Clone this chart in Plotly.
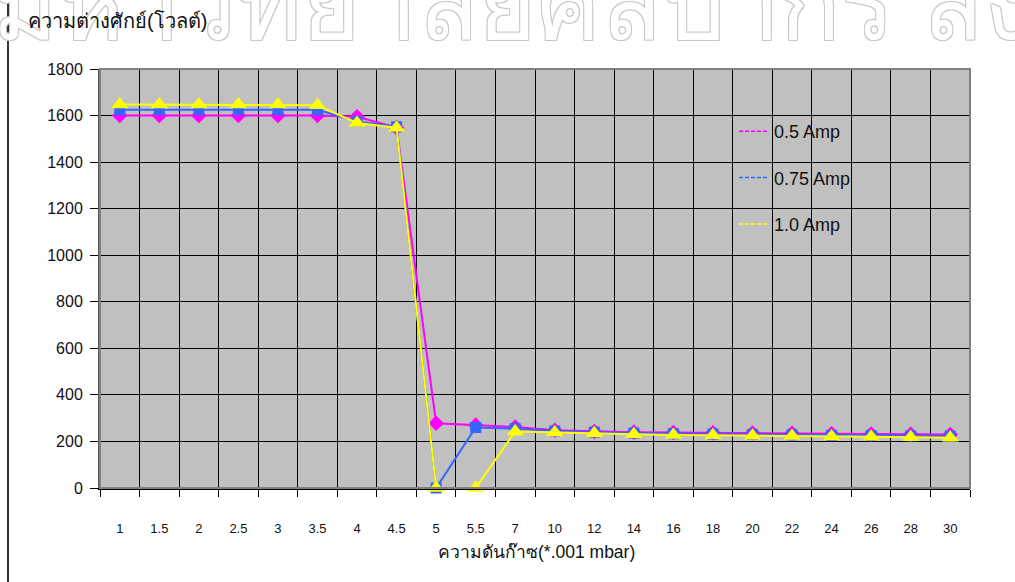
import plotly.graph_objects as go

categories = ["1", "1.5", "2", "2.5", "3", "3.5", "4", "4.5", "5", "5.5", "7",
              "10", "12", "14", "16", "18", "20", "22", "24", "26", "28", "30"]

amp_050 = [1600, 1600, 1600, 1600, 1600, 1600, 1595, 1548, 278, 270, 262,
           248, 243, 240, 238, 237, 236, 235, 233, 232, 231, 230]
amp_075 = [1625, 1625, 1625, 1625, 1625, 1625, 1575, 1552, 0, 260, 255,
           245, 240, 236, 233, 232, 230, 228, 226, 225, 224, 223]
amp_100 = [1647, 1647, 1647, 1647, 1647, 1644, 1568, 1548, 0, 0, 243,
           238, 235, 231, 228, 227, 225, 223, 221, 220, 218, 216]

series_names = ["0.5 Amp", "0.75 Amp", "1.0 Amp"]
series_values = [amp_050, amp_075, amp_100]
series_colors = ["#FF00FF", "#3366FF", "#FFFF00"]
series_symbols = ["diamond", "square", "triangle-up"]
series_sizes = [12, 11, 15]

y_title = "ความต่างศักย์(โวลต์)"
x_title = "ความดันก๊าซ(*.001 mbar)"
watermark = "มหาวิทยาลัยศิลปากร สงวนลิขสิทธิ์"

fig = go.Figure()

for name, vals, col, sym, sz in zip(series_names, series_values, series_colors,
                                     series_symbols, series_sizes):
    fig.add_trace(go.Scatter(
        x=categories, y=vals, mode="lines+markers", name=name,
        line=dict(color=col, width=2),
        marker=dict(symbol=sym, size=sz, color=col, line=dict(width=0)),
        showlegend=False, cliponaxis=False,
    ))

for i, (name, col) in enumerate(zip(series_names, series_colors)):
    fig.add_trace(go.Scatter(
        x=[None], y=[None], mode="lines", name=name,
        line=dict(color=col, width=1.5, dash="4px,2px"),
        legendgroup=f"g{i}", showlegend=True,
    ))

W, H = 1015, 582
L, R, T, B = 100, 45, 69, 94
pw, ph = W - L - R, H - T - B

def px_to_paper_x(px):
    return (px - L) / pw

def px_to_paper_y(py):
    return (H - B - py) / ph

fig.update_layout(
    width=W, height=H,
    margin=dict(l=L, r=R, t=T, b=B, pad=0),
    paper_bgcolor="white",
    plot_bgcolor="#C0C0C0",
    font=dict(family="Liberation Sans, Arial, sans-serif", color="#111111"),
    showlegend=True,
    legend=dict(
        x=px_to_paper_x(734), y=px_to_paper_y(113), xanchor="left", yanchor="top",
        bgcolor="rgba(0,0,0,0)", borderwidth=0,
        font=dict(size=18, color="#111111"),
        traceorder="grouped", tracegroupgap=20, itemwidth=30,
    ),
    xaxis=dict(
        type="category", categoryorder="array", categoryarray=categories,
        range=[-0.5, len(categories) - 0.5],
        tickson="boundaries", ticks="outside", ticklen=7, tickcolor="black", tickwidth=1,
        showgrid=True, gridcolor="black", gridwidth=1,
        showline=True, linecolor="black", linewidth=2,
        tickfont=dict(size=13, color="#111111"),
        ticklabelstandoff=27,
        zeroline=False,
    ),
    yaxis=dict(
        range=[0, 1800], tickmode="array", tickvals=list(range(0, 1801, 200)),
        ticks="outside", ticklen=8, tickcolor="black", tickwidth=1,
        showgrid=True, gridcolor="black", gridwidth=1,
        showline=True, linecolor="#555555", linewidth=2,
        tickfont=dict(size=16, color="#111111"),
        ticklabelstandoff=4,
        zeroline=False,
    ),
)

# plot-area border (top/right gray frame)
fig.add_shape(type="rect", xref="paper", yref="paper", x0=0, x1=1, y0=0, y1=1,
              line=dict(color="#808080", width=2), fillcolor="rgba(0,0,0,0)", layer="above")
# left frame line of the chart object
fig.add_shape(type="line", xref="paper", yref="paper",
              x0=px_to_paper_x(8), x1=px_to_paper_x(8),
              y0=px_to_paper_y(H + 5), y1=px_to_paper_y(-5),
              line=dict(color="#333333", width=2), layer="above")

# outlined watermark heading at top (partially cut by the page edge)
oc = "#C8C8C8"
fig.add_annotation(
    text=watermark, xref="paper", yref="paper",
    x=px_to_paper_x(-10), y=px_to_paper_y(62), xanchor="left", yanchor="bottom",
    showarrow=False,
    font=dict(size=100, color="white",
              shadow=f"-1px -1px 0 {oc}, 1px -1px 0 {oc}, -1px 1px 0 {oc}, 1px 1px 0 {oc}"),
)

fig.add_annotation(
    text=y_title, xref="paper", yref="paper",
    x=px_to_paper_x(26), y=px_to_paper_y(21), xanchor="left", yanchor="middle",
    showarrow=False, font=dict(size=20, color="#111111"),
)
fig.add_annotation(
    text=x_title, xref="paper", yref="paper",
    x=px_to_paper_x(536), y=px_to_paper_y(552), xanchor="center", yanchor="middle",
    showarrow=False, font=dict(size=17.5, color="#111111"),
)

fig.write_html("out.html")
